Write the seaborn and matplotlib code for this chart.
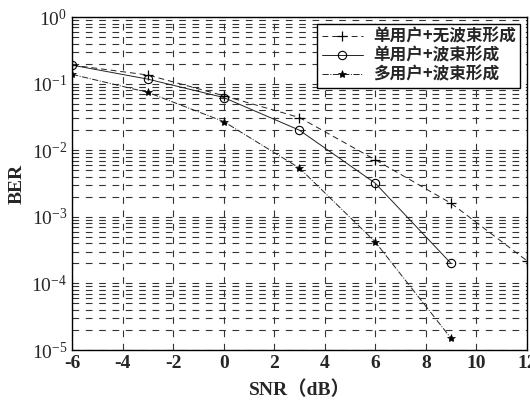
import numpy as np
import pandas as pd
import matplotlib
matplotlib.use('Agg')
import matplotlib.pyplot as plt
import seaborn as sns
from matplotlib.ticker import LogLocator, FixedLocator

# 数据
snr_nobf = [-6, -3, 0, 3, 6, 9, 12]
ber_nobf = [0.19, 0.135, 0.066, 0.031, 0.0072, 0.0016, 0.00022]

snr_bf = [-6, -3, 0, 3, 6, 9]
ber_bf = [0.19, 0.117, 0.062, 0.020, 0.0032, 0.0002]

snr_mu = [-6, -3, 0, 3, 6, 9]
ber_mu = [0.138, 0.074, 0.027, 0.0054, 0.00042, 1.5e-5]

labels = ['单用户+无波束形成', '单用户+波束形成', '多用户+波束形成']
x_ticks = [-6, -4, -2, 0, 2, 4, 6, 8, 10, 12]

sns.set_theme(style='white')
plt.rcParams['font.family'] = ['Liberation Serif', 'Noto Sans CJK SC']
plt.rcParams['mathtext.fontset'] = 'stix'
plt.rcParams['mathtext.default'] = 'bf'
plt.rcParams['axes.unicode_minus'] = False

fig = plt.figure(figsize=(5.3, 4.07), dpi=100)
ax = fig.add_axes([0.136, 0.140, 0.858, 0.818])

line_c = '#222222'
sns.lineplot(x=snr_nobf, y=ber_nobf, ax=ax, color=line_c, linewidth=0.7,
             linestyle=(0, (6, 4)), marker='+', markersize=7, markeredgewidth=0.9,
             markeredgecolor='black', label=labels[0])
sns.lineplot(x=snr_bf, y=ber_bf, ax=ax, color=line_c, linewidth=0.7,
             linestyle='-', marker='o', markersize=6, markerfacecolor='none',
             markeredgecolor='black', markeredgewidth=0.8, label=labels[1])
sns.lineplot(x=snr_mu, y=ber_mu, ax=ax, color=line_c, linewidth=0.7,
             linestyle='-.', marker='*', markersize=6, markeredgewidth=0.5,
             markerfacecolor='black', markeredgecolor='black', label=labels[2])

ax.set_yscale('log')
ax.set_ylim(1e-5, 1)
ax.set_xlim(-6, 12)
ax.xaxis.set_major_locator(FixedLocator(x_ticks))
ax.yaxis.set_major_locator(LogLocator(base=10, numticks=10))
ax.yaxis.set_minor_locator(LogLocator(base=10, subs=np.arange(2, 10), numticks=20))

# MATLAB 风格的虚线网格
ax.grid(which='major', axis='both', color='#333333', linestyle=(0, (6, 6)), linewidth=0.8)
ax.grid(which='minor', axis='y', color='#333333', linestyle=(0, (6, 6)), linewidth=0.8)

ax.tick_params(which='both', direction='in', labelsize=14)
ax.tick_params(which='major', length=4)
ax.tick_params(which='minor', length=2)
for lab in ax.get_xticklabels():
    lab.set_fontweight('bold')

for s in ax.spines.values():
    s.set_color('black')
    s.set_linewidth(1.0)

ax.set_xlabel('SNR（dB）', fontsize=14, fontweight='bold', labelpad=6)
ax.set_ylabel('BER', fontsize=14, fontweight='bold', labelpad=4)

leg = ax.legend(loc='upper right', fontsize=12, frameon=True, fancybox=False,
                borderaxespad=0.4, handlelength=2.5, labelspacing=0.05,
                borderpad=0.25, handletextpad=0.6,
                prop={'family': ['Noto Sans CJK SC'], 'weight': 'bold', 'size': 12})
leg.get_frame().set_edgecolor('black')
leg.get_frame().set_linewidth(1.0)
leg.get_frame().set_alpha(1)

plt.savefig('out.png', dpi=100)
